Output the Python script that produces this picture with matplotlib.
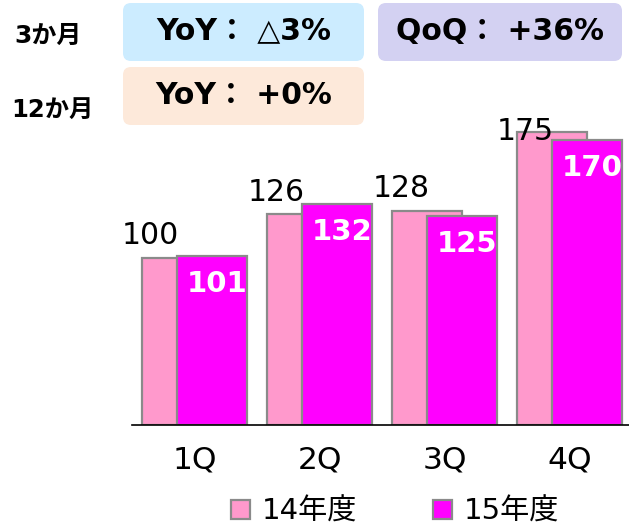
import matplotlib.pyplot as plt
import numpy as np
from matplotlib.patches import FancyBboxPatch

plt.rcParams['font.family'] = ['DejaVu Sans', 'Noto Sans CJK JP']

# 四半期ごとの実績（14年度 = 100 基準）
quarters = ['1Q', '2Q', '3Q', '4Q']
fy14 = [100, 126, 128, 175]
fy15 = [101, 132, 125, 170]
series_names = ['14年度', '15年度']

# 上部の増減率ボックス
row_labels = ['3か月', '12か月']
yoy_3m = 'YoY：△3%'
qoq_3m = 'QoQ：+36%'
yoy_12m = 'YoY：+0%'

fig = plt.figure(figsize=(6.29, 5.25), dpi=100)

# ピクセル座標で描く背景用の軸（ボックスと行ラベル）
bg = fig.add_axes([0, 0, 1, 1])
bg.set_xlim(0, 629)
bg.set_ylim(525, 0)
bg.axis('off')

cajas = [
    (123, 3, 241, 58, '#CCECFF', yoy_3m),
    (378, 3, 244, 58, '#D3D1F2', qoq_3m),
    (123, 67, 241, 58, '#FDE9DA', yoy_12m),
]
for x0, y0, w, h, color, texto in cajas:
    bg.add_patch(FancyBboxPatch((x0, y0), w, h,
                                boxstyle='round,pad=0,rounding_size=8',
                                facecolor=color, edgecolor='none'))
    bg.text(x0 + w / 2, y0 + h / 2 - 1, texto.replace('：', '： '),
            ha='center', va='center', fontsize=21.5, fontweight='bold')

bg.text(48, 36, row_labels[0], ha='center', va='center', fontsize=18, fontweight='bold')
bg.text(52, 110, row_labels[1], ha='center', va='center', fontsize=17.5, fontweight='bold')

# 棒グラフ本体
ax = fig.add_axes([132 / 629, 100 / 525, 500 / 629, 301.5 / 525])
x = np.arange(len(quarters))
ancho = 0.56
desplaz = 0.14

ax.bar(x - desplaz, fy14, ancho, color='#FF99CC', edgecolor='#8A8A8A',
       linewidth=1.6, label=series_names[0], zorder=2)
ax.bar(x + desplaz, fy15, ancho, color='#FF00FF', edgecolor='#8A8A8A',
       linewidth=1.6, label=series_names[1], zorder=3)

for xi, v in zip(x, fy14):
    ax.text(xi - desplaz - 0.21, min(v + 8, 170), str(v), ha='center',
            va='baseline', fontsize=21.5, zorder=4, clip_on=False)
for xi, v in zip(x, fy15):
    ax.annotate(str(v), (xi + desplaz + 0.04, v), xytext=(0, -10),
                textcoords='offset points', ha='center', va='top',
                fontsize=21, fontweight='bold', color='white', zorder=4)

ax.set_xlim(-0.5, 3.5)
ax.set_ylim(0, 180)
ax.set_xticks(x)
ax.set_xticklabels(quarters, fontsize=22.5)
ax.tick_params(axis='x', length=0, pad=15)
ax.set_yticks([])
for lado in ['top', 'right', 'left']:
    ax.spines[lado].set_visible(False)
ax.spines['bottom'].set_linewidth(1.2)
ax.spines['bottom'].set_zorder(5)
ax.patch.set_alpha(0)

fig.legend(loc='center', bbox_to_anchor=(0.628, 0.025), ncol=2, frameon=False,
           fontsize=21, handlelength=0.65, handleheight=0.65, handletextpad=0.4,
           columnspacing=2.6)

plt.savefig('out.png', dpi=100)
